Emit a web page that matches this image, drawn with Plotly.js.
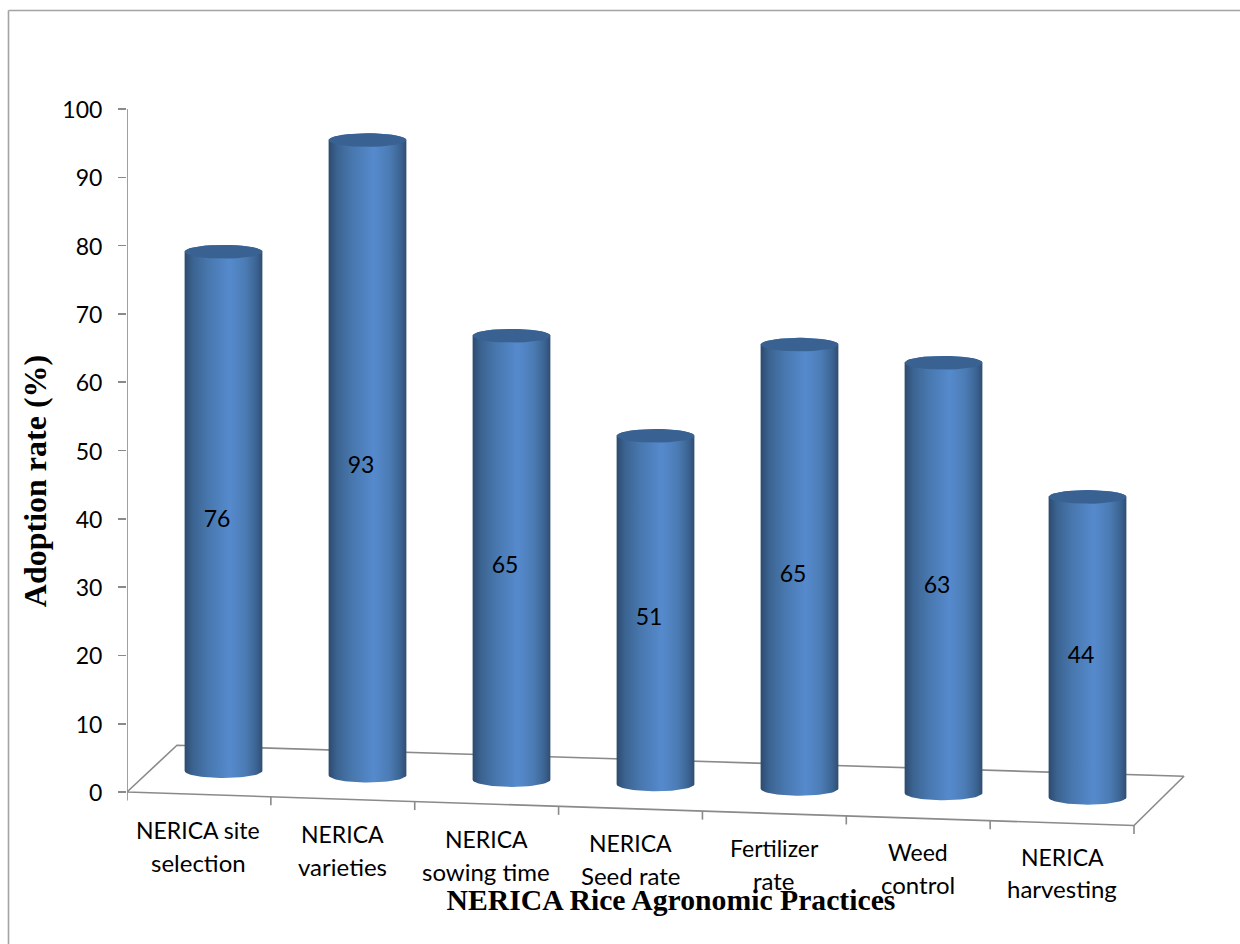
<!DOCTYPE html>
<html>
<head>
<meta charset="utf-8">
<script src="https://cdn.plot.ly/plotly-3.0.1.min.js"></script>
<style>html,body{margin:0;padding:0;background:#fff}</style>
</head>
<body>
<div id="chart" style="width:1240px;height:944px"></div>
<script>
// Adoption of NERICA rice practices, drawn as pseudo-3D cylinders on a tilted floor.
const categories = ["NERICA site selection", "NERICA varieties", "NERICA sowing time", "NERICA Seed rate", "Fertilizer rate", "Weed control", "NERICA harvesting"];
const adoptionRates = [76, 93, 65, 51, 65, 63, 44];
const labelLineOne = ["NERICA site", "NERICA", "NERICA", "NERICA", "Fertilizer", "Weed", "NERICA"];
const labelLineTwo = ["selection", "varieties", "sowing time", "Seed rate", "rate", "control", "harvesting"];
const yTicks = [0, 10, 20, 30, 40, 50, 60, 70, 80, 90, 100];

// Cylinder and floor geometry, in axis units.
const radiusX = 0.27, radiusTop = 1.0, radiusBottom = 1.05;
const baseStart = 3.1, baseStep = 0.65;
const floorFrontLeft = [-0.670, 0], floorFrontRight = [6.323, -4.9];
const floorBackLeft = [-0.323, 6.85], floorBackRight = [6.670, 2.3];
const yRange = [-8.931, 100];

const positions = adoptionRates.map((_, i) => i);
const bases = positions.map(i => baseStart - baseStep * i);
const tops = adoptionRates.map((v, i) => bases[i] + v);

const axisGrey = "#8a8a8a";
const arcSteps = 36;

function arc(cx, cy, ry, from, to) {
  const xs = [], ys = [];
  for (let k = 0; k <= arcSteps; k++) {
    const t = from + (to - from) * k / arcSteps;
    xs.push(cx + radiusX * Math.cos(t));
    ys.push(cy + ry * Math.sin(t));
  }
  return [xs, ys];
}

// Floor outline and the ticks along its front edge.
const floorX = [floorFrontLeft[0], floorBackLeft[0], floorBackRight[0], floorFrontRight[0], floorFrontLeft[0]];
const floorY = [floorFrontLeft[1], floorBackLeft[1], floorBackRight[1], floorFrontRight[1], floorFrontLeft[1]];
const tickX = [], tickY = [];
for (let k = 0; k <= categories.length; k++) {
  const f = k / categories.length;
  const x = floorFrontLeft[0] + (floorFrontRight[0] - floorFrontLeft[0]) * f;
  const y = floorFrontLeft[1] + (floorFrontRight[1] - floorFrontLeft[1]) * f;
  tickX.push(x, x, null);
  tickY.push(y, y - 1.25, null);
}

const lineStyle = {color: axisGrey, width: 1.6};
const traces = [
  {x: floorX, y: floorY, mode: "lines", line: lineStyle, cliponaxis: false},
  {x: tickX, y: tickY, mode: "lines", line: lineStyle, cliponaxis: false},
  {x: [floorFrontLeft[0], floorFrontLeft[0]], y: [0, 100], mode: "lines", line: lineStyle, cliponaxis: false}
];

const sideScale = [
  [0, "#2c4a70"], [0.1, "#3a628f"], [0.3, "#4877ae"], [0.58, "#558acd"],
  [0.78, "#4c7cb5"], [0.93, "#3a6290"], [1, "#2e4d73"]
];

// Cylinder bodies: the front of the base ellipse, both sides and the top edge.
positions.forEach(i => {
  const [bx, by] = arc(i, bases[i], radiusBottom, Math.PI, 2 * Math.PI);
  const [tx, ty] = arc(i, tops[i], radiusTop, 0, Math.PI);
  traces.push({
    x: bx.concat(tx), y: by.concat(ty), mode: "lines", line: {width: 0},
    fill: "toself",
    fillgradient: {type: "horizontal", colorscale: sideScale},
    cliponaxis: false, name: categories[i]
  });
  const [cx, cy] = arc(i, tops[i], radiusTop, 0, 2 * Math.PI);
  traces.push({
    x: cx, y: cy, mode: "lines", line: {width: 0},
    fill: "toself", fillcolor: "#396293", cliponaxis: false
  });
});

const labelFont = {family: "Lato, Carlito, sans-serif", size: 23, color: "#000"};
const lowerLineFont = {family: "Lato, Carlito, sans-serif", size: 24, color: "#000"};

// Value labels inside the cylinders.
traces.push({
  x: positions.map(i => i - 0.045),
  y: adoptionRates.map((v, i) => bases[i] + v / 2 - 1.4),
  mode: "text", text: adoptionRates.map(String),
  textposition: "middle center", textfont: labelFont, cliponaxis: false
});

// Category labels run parallel to the floor's front edge, one annotation per line.
// They sit below the value range, so their height is given as a fraction of the plot.
const toPaperY = v => (v - yRange[0]) / (yRange[1] - yRange[0]);
const categoryNote = (text, i, y, font) => ({
  text: text, xref: "x", yref: "paper", x: i - 0.177, y: toPaperY(y - baseStep * i),
  showarrow: false, xanchor: "center", yanchor: "middle", font: font
});
const annotations = positions.flatMap(i => [
  categoryNote(labelLineOne[i], i, -5.55, labelFont),
  categoryNote(labelLineTwo[i], i, -10.3, lowerLineFont)
]);

const left = 127, top_ = 109, right = 1215, bottom = 853;
const frameX = (8.5 - left) / (right - left);
const frameY = (bottom - 10.5) / (bottom - top_);
const frameFloor = (bottom - 944) / (bottom - top_);
const frameEnd = (1240 - left) / (right - left);

const serif = "'Liberation Serif', 'Times New Roman', serif";

const layout = {
  width: 1240, height: 944,
  margin: {l: left, r: 1240 - right, t: top_, b: 944 - bottom},
  showlegend: false, hovermode: false,
  paper_bgcolor: "#fff", plot_bgcolor: "#fff",
  annotations: annotations,
  xaxis: {
    range: [-0.6701, 6.8854], showgrid: false, zeroline: false, showline: false,
    showticklabels: false, ticks: "", fixedrange: true,
    title: {text: "<b>NERICA Rice Agronomic Practices</b>", font: {family: serif, size: 29.7, color: "#000"}, standoff: 36}
  },
  yaxis: {
    range: yRange, showgrid: false, zeroline: false, showline: false,
    tickmode: "array", tickvals: yTicks, ticktext: yTicks.map(String),
    ticks: "outside", ticklen: 8, tickwidth: 1.6, tickcolor: axisGrey,
    ticklabelstandoff: 11, ticklabelshift: 1, tickfont: labelFont, fixedrange: true,
    title: {text: "<b>Adoption rate (%)</b>", font: {family: serif, size: 32, color: "#000"}, standoff: 6}
  },
  shapes: [
    {type: "line", xref: "paper", yref: "paper", x0: frameX, x1: frameX, y0: frameFloor, y1: frameY,
     line: {color: "#a3a3a3", width: 1.6}},
    {type: "line", xref: "paper", yref: "paper", x0: frameX, x1: frameEnd, y0: frameY, y1: frameY,
     line: {color: "#a3a3a3", width: 1.6}}
  ]
};

Plotly.newPlot("chart", traces, layout, {displayModeBar: false, staticPlot: true});
</script>
</body>
</html>
